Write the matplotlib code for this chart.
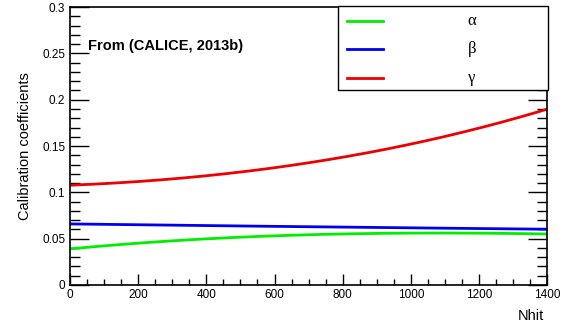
import matplotlib.pyplot as plt
import numpy as np
from matplotlib.ticker import MultipleLocator
from matplotlib.patches import Rectangle
from matplotlib.lines import Line2D

plt.rcParams['font.family'] = ['Liberation Sans', 'DejaVu Sans']

nhit = [0, 200, 400, 600, 800, 1000, 1200, 1400]
alpha = [0.039, 0.045, 0.050, 0.053, 0.055, 0.056, 0.056, 0.055]
beta = [0.066, 0.065, 0.064, 0.063, 0.0625, 0.062, 0.061, 0.060]
gamma = [0.108, 0.111, 0.118, 0.127, 0.138, 0.152, 0.169, 0.190]
names = ['α', 'β', 'γ']
colors = ['#00ee00', '#0000ee', '#ee0000']

xs = np.linspace(0, 1400, 200)

fig = plt.figure(figsize=(5.79, 3.22), dpi=100)
ax = fig.add_axes([0.121, 0.115, 0.824, 0.863])

series = [(alpha, 3), (beta, 2), (gamma, 3)]
for (vals, deg), c in zip(series, colors):
    ax.plot(xs, np.polyval(np.polyfit(nhit, vals, deg), xs), color=c, lw=2)

ax.set_xlim(0, 1400)
ax.set_ylim(0, 0.3)
ax.xaxis.set_major_locator(MultipleLocator(200))
ax.xaxis.set_minor_locator(MultipleLocator(50))
ax.yaxis.set_major_locator(MultipleLocator(0.05))
ax.yaxis.set_minor_locator(MultipleLocator(0.01))
ax.yaxis.set_major_formatter(plt.FuncFormatter(lambda v, p: '0' if v == 0 else f'{v:g}'))
ax.tick_params(which='both', direction='in', top=False, right=True, labelsize=8.5, width=1)
ax.tick_params(axis='y', which='major', length=14)
ax.tick_params(axis='y', which='minor', length=7)
ax.tick_params(axis='x', which='major', length=8, pad=3)
ax.tick_params(axis='x', which='minor', length=4)
for s in ax.spines.values():
    s.set_linewidth(1.2)

ax.set_ylabel('Calibration coefficients', fontsize=10.5)
ax.yaxis.set_label_coords(-0.08, 0.5)
ax.set_xlabel('Nhit', fontsize=10.5)
ax.xaxis.set_label_coords(0.965, -0.085)

ax.text(0.038, 0.845, 'From (CALICE, 2013b)', transform=ax.transAxes,
        fontsize=10.5, fontweight='bold')

# ROOT-style legend box
ax.add_patch(Rectangle((0.562, 0.701), 0.440, 0.302, transform=ax.transAxes,
                       facecolor='white', edgecolor='black', lw=1, clip_on=False, zorder=5))
for i, (n, c) in enumerate(zip(names, colors)):
    yy = 0.950 - i * 0.1025
    ax.add_line(Line2D([0.581, 0.656], [yy, yy], transform=ax.transAxes,
                       color=c, lw=2, zorder=6))
    ax.text(0.842, yy, n, transform=ax.transAxes, ha='center', va='center',
            fontsize=12, family='Liberation Serif', zorder=6)

fig.savefig('out.png', dpi=100)
